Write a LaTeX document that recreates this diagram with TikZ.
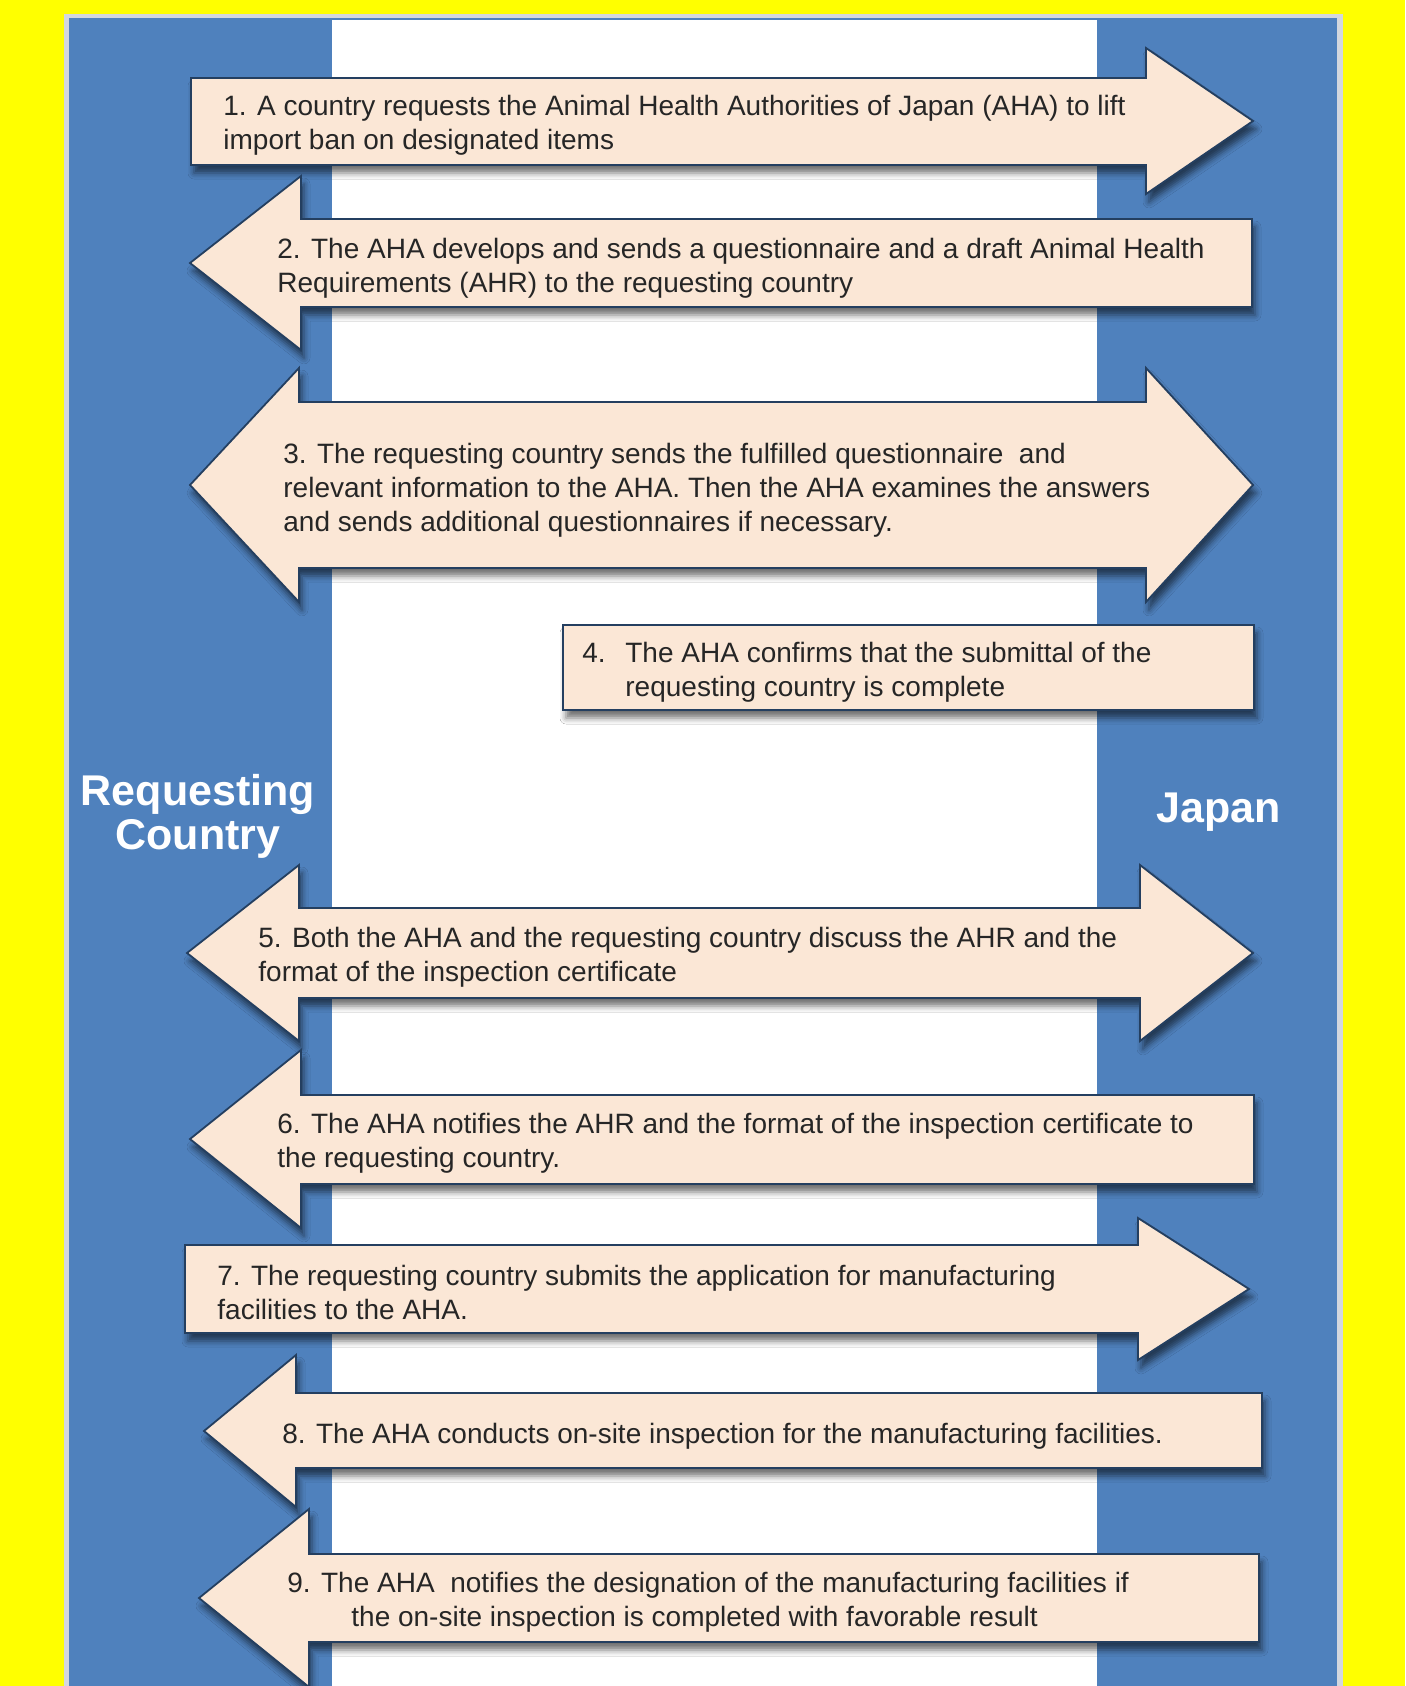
\documentclass[tikz,border=0pt]{standalone}
\usepackage{fontspec}
\setmainfont{Liberation Sans}
\usetikzlibrary{shadows.blur}
\definecolor{bgyellow}{HTML}{FFFF00}
\definecolor{laneblue}{HTML}{4F81BD}
\definecolor{peach}{HTML}{FBE7D6}
\definecolor{navy}{HTML}{243F60}
\definecolor{edgegrey}{HTML}{D3D7DE}

\begin{document}
\begin{tikzpicture}[x=0.5pt, y=-0.5pt]
	\tikzset{blockarrow/.style={fill=peach, draw=navy, line width=0.9pt, line join=miter, blur shadow={shadow xshift=1.5pt, shadow yshift=-4pt, shadow blur radius=3pt, shadow opacity=55}},
		steptext/.style={anchor=west, align=left, inner sep=0pt, font=\fontsize{14}{17}\selectfont, text=black!85},
		side/.style={text=white, align=center, font=\bfseries\fontsize{21.5}{22}\selectfont} }

	\useasboundingbox[fill=bgyellow] (0,0) rectangle (1405,1686);
	\fill[edgegrey] (64,14) rectangle (1343,1686);
	\fill[laneblue] (69,18) rectangle (1337,1686);
	\fill[white] (332,20) rectangle (1097,1686);

	\node[side] (rc) at (198,816) {Requesting\\Country};
	\node[side] (jp) at (1219,812) {Japan};

	\draw[blockarrow] (191,78) -- (1146,78) -- (1146,48) -- (1253,121) -- (1146,194) -- (1146,165) -- (191,165) -- cycle;
	\draw[blockarrow] (1252,219) -- (301,219) -- (301,176) -- (190,263) -- (301,350) -- (301,307) -- (1252,307) -- cycle;
	\draw[blockarrow] (299,402) -- (1146,402) -- (1146,368) -- (1253,485) -- (1146,602) -- (1146,568) -- (299,568) -- (299,602) -- (190,485) -- (299,368) -- cycle;
	\draw[blockarrow] (563,625) rectangle (1254,710);
	\draw[blockarrow] (299,908) -- (1140,908) -- (1140,865) -- (1253,953) -- (1140,1041) -- (1140,998) -- (299,998) -- (299,1041) -- (187,953) -- (299,865) -- cycle;
	\draw[blockarrow] (1254,1095) -- (301,1095) -- (301,1050) -- (190,1139) -- (301,1228) -- (301,1184) -- (1254,1184) -- cycle;
	\draw[blockarrow] (185,1245) -- (1138,1245) -- (1138,1218) -- (1249,1289) -- (1138,1360) -- (1138,1333) -- (185,1333) -- cycle;
	\draw[blockarrow] (1262,1393) -- (296,1393) -- (296,1355) -- (204,1431) -- (296,1507) -- (296,1468) -- (1262,1468) -- cycle;
	\draw[blockarrow] (1259,1554) -- (309,1554) -- (309,1509) -- (199,1598) -- (309,1687) -- (309,1642) -- (1259,1642) -- cycle;

	\node[steptext] (t1) at (223,125) {1. A country requests the Animal Health Authorities of Japan (AHA) to lift\\import ban on designated items};
	\node[steptext] (t2) at (277,268) {2. The AHA develops and sends a questionnaire and a draft Animal Health\\Requirements (AHR) to the requesting country};
	\node[steptext] (t3) at (283,490) {3. The requesting country sends the fulfilled questionnaire\ \ and\\relevant information to the AHA. Then the AHA examines the answers\\and sends additional questionnaires if necessary.};
	\node[steptext] (t4) at (582,672) {\makebox[21.5pt][l]{4.}The AHA confirms that the submittal of the\\\hspace*{21.5pt}requesting country is complete};
	\node[steptext] (t5) at (258,957) {5. Both the AHA and the requesting country discuss the AHR and the\\format of the inspection certificate};
	\node[steptext] (t6) at (277,1143) {6. The AHA notifies the AHR and the format of the inspection certificate to\\the requesting country.};
	\node[steptext] (t7) at (217,1292) {7. The requesting country submits the application for manufacturing\\facilities to the AHA.};
	\node[steptext] (t8) at (282,1436) {8. The AHA conducts on-site inspection for the manufacturing facilities.};
	\node[steptext] (t9) at (287,1602) {9. The AHA\ \ notifies the designation of the manufacturing facilities if\\\hspace*{32pt}the on-site inspection is completed with favorable result};
\end{tikzpicture}
\end{document}
